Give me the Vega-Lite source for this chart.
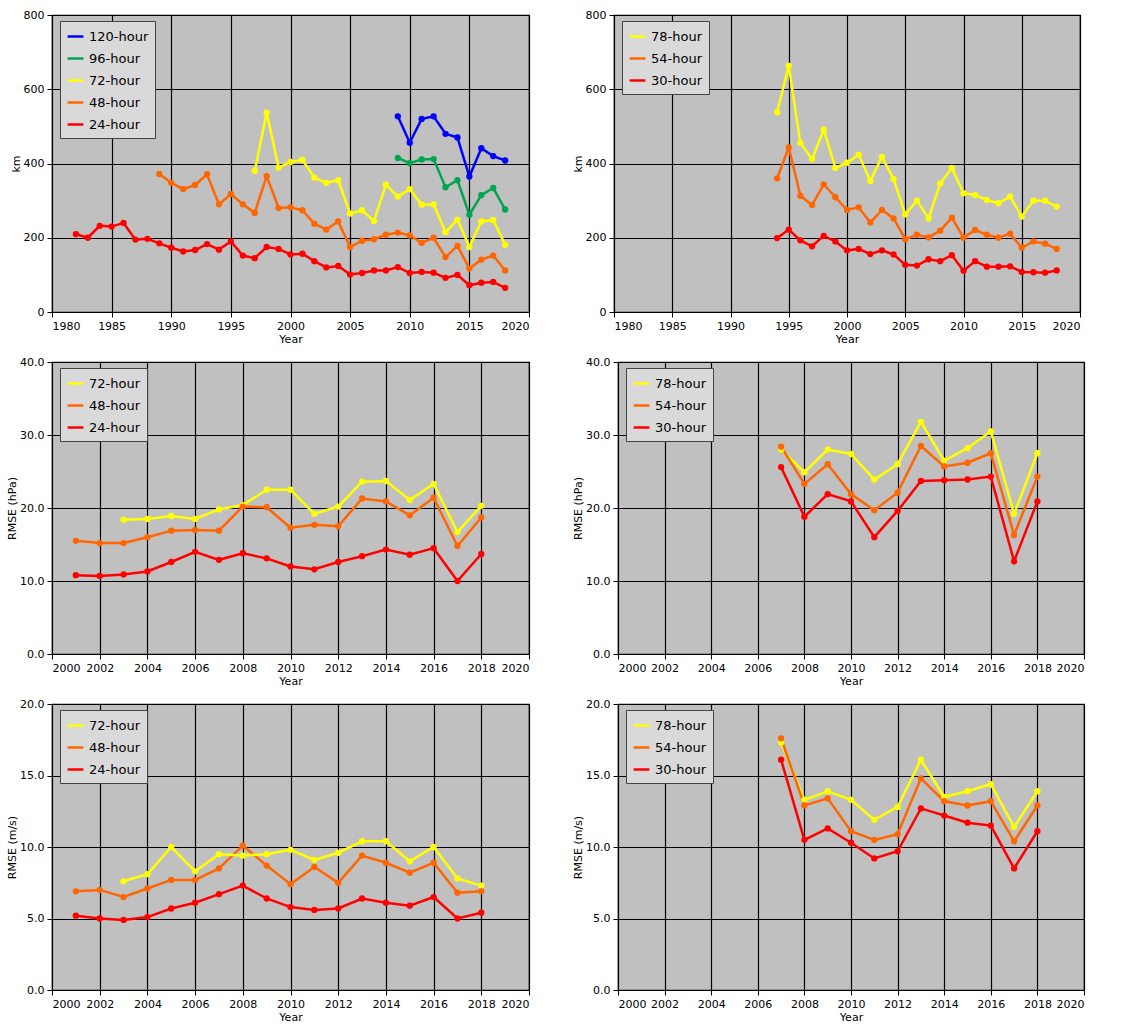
{
  "$schema": "https://vega.github.io/schema/vega-lite/v6.json",
  "padding": {"left": 5, "top": 8, "right": 5, "bottom": 2},
  "spacing": 10,
  "config": {
    "font": "DejaVu Sans",
    "view": {"fill": "#c0c0c0", "stroke": "#000", "strokeWidth": 1.2},
    "axis": {"gridColor": "#000", "gridOpacity": 1, "gridWidth": 1.2, "domainColor": "#000", "tickColor": "#000", "labelFontSize": 11, "labelColor": "#000", "titleFontSize": 11, "titleFontWeight": "normal", "titleColor": "#000", "labelPadding": 3, "titlePadding": 2},
    "legend": {"orient": "none", "legendX": 8, "legendY": 6, "fillColor": "#d9d9d9", "strokeColor": "#444", "padding": 6, "labelFontSize": 13, "labelColor": "#000", "title": null, "symbolType": "stroke", "symbolStrokeWidth": 2.5, "symbolSize": 250, "rowPadding": 5},
    "line": {"strokeWidth": 2.5},
    "point": {"filled": true, "size": 40, "opacity": 1}
  },
  "resolve": {"scale": {"color": "independent"}},
  "vconcat": [
    {"hconcat": [
      {
        "width": 477, "height": 297,
        "data": {"values": [
          {"year":1982,"a":null,"b":null,"c":null,"d":null,"e":210},
          {"year":1983,"a":null,"b":null,"c":null,"d":null,"e":200},
          {"year":1984,"a":null,"b":null,"c":null,"d":null,"e":232},
          {"year":1985,"a":null,"b":null,"c":null,"d":null,"e":230},
          {"year":1986,"a":null,"b":null,"c":null,"d":null,"e":240},
          {"year":1987,"a":null,"b":null,"c":null,"d":null,"e":195},
          {"year":1988,"a":null,"b":null,"c":null,"d":null,"e":197},
          {"year":1989,"a":null,"b":null,"c":null,"d":372,"e":185},
          {"year":1990,"a":null,"b":null,"c":null,"d":348,"e":173},
          {"year":1991,"a":null,"b":null,"c":null,"d":331,"e":163},
          {"year":1992,"a":null,"b":null,"c":null,"d":342,"e":167},
          {"year":1993,"a":null,"b":null,"c":null,"d":371,"e":183},
          {"year":1994,"a":null,"b":null,"c":null,"d":290,"e":168},
          {"year":1995,"a":null,"b":null,"c":null,"d":318,"e":190},
          {"year":1996,"a":null,"b":null,"c":null,"d":290,"e":152},
          {"year":1997,"a":null,"b":null,"c":380,"d":267,"e":145},
          {"year":1998,"a":null,"b":null,"c":537,"d":366,"e":175},
          {"year":1999,"a":null,"b":null,"c":389,"d":280,"e":170},
          {"year":2000,"a":null,"b":null,"c":404,"d":282,"e":155},
          {"year":2001,"a":null,"b":null,"c":410,"d":274,"e":157},
          {"year":2002,"a":null,"b":null,"c":362,"d":238,"e":137},
          {"year":2003,"a":null,"b":null,"c":348,"d":222,"e":120},
          {"year":2004,"a":null,"b":null,"c":355,"d":244,"e":124},
          {"year":2005,"a":null,"b":null,"c":265,"d":175,"e":101},
          {"year":2006,"a":null,"b":null,"c":274,"d":192,"e":105},
          {"year":2007,"a":null,"b":null,"c":245,"d":196,"e":112},
          {"year":2008,"a":null,"b":null,"c":343,"d":208,"e":112},
          {"year":2009,"a":527,"b":415,"c":311,"d":214,"e":121},
          {"year":2010,"a":456,"b":401,"c":331,"d":206,"e":105},
          {"year":2011,"a":520,"b":411,"c":289,"d":186,"e":108},
          {"year":2012,"a":527,"b":412,"c":290,"d":200,"e":106},
          {"year":2013,"a":480,"b":336,"c":215,"d":148,"e":92},
          {"year":2014,"a":470,"b":355,"c":249,"d":178,"e":100},
          {"year":2015,"a":365,"b":262,"c":175,"d":117,"e":72},
          {"year":2016,"a":441,"b":315,"c":244,"d":141,"e":79},
          {"year":2017,"a":420,"b":334,"c":248,"d":152,"e":81},
          {"year":2018,"a":408,"b":276,"c":181,"d":112,"e":65}
        ]},
        "transform": [
          {"fold": ["a","b","c","d","e"], "as": ["k","v"]},
          {"filter": "datum.v != null"},
          {"calculate": "{'a':'120-hour','b':'96-hour','c':'72-hour','d':'48-hour','e':'24-hour'}[datum.k]", "as": "series"}
        ],
        "encoding": {
          "x": {"field": "year", "type": "quantitative", "title": "Year", "scale": {"domain": [1980, 2020], "nice": false}, "axis": {"values": [1980,1985,1990,1995,2000,2005,2010,2015,2020], "format": "d"}},
          "y": {"field": "v", "type": "quantitative", "title": "km", "scale": {"domain": [0, 800], "nice": false}, "axis": {"values": [0,200,400,600,800], "format": "d"}},
          "color": {"field": "series", "type": "nominal", "scale": {"domain": ["120-hour","96-hour","72-hour","48-hour","24-hour"], "range": ["#0000ff","#00a550","#ffff00","#ff6600","#ff0000"]}}
        },
        "layer": [{"mark": "line"}, {"mark": "point"}]
      },
      {
        "width": 466, "height": 297,
        "data": {"values": [
          {"year":1994,"a":538,"b":360,"c":199},
          {"year":1995,"a":663,"b":443,"c":222},
          {"year":1996,"a":455,"b":313,"c":193},
          {"year":1997,"a":412,"b":288,"c":177},
          {"year":1998,"a":491,"b":344,"c":205},
          {"year":1999,"a":388,"b":309,"c":190},
          {"year":2000,"a":402,"b":275,"c":166},
          {"year":2001,"a":424,"b":282,"c":170},
          {"year":2002,"a":353,"b":241,"c":156},
          {"year":2003,"a":418,"b":275,"c":166},
          {"year":2004,"a":358,"b":252,"c":155},
          {"year":2005,"a":263,"b":196,"c":127},
          {"year":2006,"a":300,"b":208,"c":125},
          {"year":2007,"a":252,"b":201,"c":142},
          {"year":2008,"a":346,"b":219,"c":137},
          {"year":2009,"a":388,"b":254,"c":153},
          {"year":2010,"a":320,"b":200,"c":111},
          {"year":2011,"a":315,"b":221,"c":137},
          {"year":2012,"a":302,"b":208,"c":122},
          {"year":2013,"a":293,"b":200,"c":122},
          {"year":2014,"a":311,"b":211,"c":123},
          {"year":2015,"a":257,"b":173,"c":108},
          {"year":2016,"a":300,"b":190,"c":107},
          {"year":2017,"a":300,"b":184,"c":106},
          {"year":2018,"a":284,"b":170,"c":112}
        ]},
        "transform": [
          {"fold": ["a","b","c"], "as": ["k","v"]},
          {"calculate": "{'a':'78-hour','b':'54-hour','c':'30-hour'}[datum.k]", "as": "series"}
        ],
        "encoding": {
          "x": {"field": "year", "type": "quantitative", "title": "Year", "scale": {"domain": [1980, 2020], "nice": false}, "axis": {"values": [1980,1985,1990,1995,2000,2005,2010,2015,2020], "format": "d"}},
          "y": {"field": "v", "type": "quantitative", "title": "km", "scale": {"domain": [0, 800], "nice": false}, "axis": {"values": [0,200,400,600,800], "format": "d"}},
          "color": {"field": "series", "type": "nominal", "scale": {"domain": ["78-hour","54-hour","30-hour"], "range": ["#ffff00","#ff6600","#ff0000"]}}
        },
        "layer": [{"mark": "line"}, {"mark": "point"}]
      }
    ], "spacing": 40, "resolve": {"scale": {"color": "independent"}}},
    {"hconcat": [
      {
        "width": 477, "height": 292,
        "data": {"values": [
          {"year":2001,"a":null,"b":15.5,"c":10.8},
          {"year":2002,"a":null,"b":15.2,"c":10.7},
          {"year":2003,"a":18.4,"b":15.2,"c":10.9},
          {"year":2004,"a":18.5,"b":16.0,"c":11.3},
          {"year":2005,"a":18.9,"b":16.9,"c":12.6},
          {"year":2006,"a":18.5,"b":17.0,"c":14.0},
          {"year":2007,"a":19.8,"b":16.9,"c":12.9},
          {"year":2008,"a":20.4,"b":20.2,"c":13.8},
          {"year":2009,"a":22.5,"b":20.1,"c":13.1},
          {"year":2010,"a":22.5,"b":17.3,"c":12.0},
          {"year":2011,"a":19.2,"b":17.7,"c":11.6},
          {"year":2012,"a":20.2,"b":17.5,"c":12.6},
          {"year":2013,"a":23.6,"b":21.3,"c":13.4},
          {"year":2014,"a":23.7,"b":20.9,"c":14.3},
          {"year":2015,"a":21.1,"b":19.0,"c":13.6},
          {"year":2016,"a":23.3,"b":21.4,"c":14.5},
          {"year":2017,"a":16.7,"b":14.8,"c":10.0},
          {"year":2018,"a":20.3,"b":18.7,"c":13.7}
        ]},
        "transform": [
          {"fold": ["a","b","c"], "as": ["k","v"]},
          {"filter": "datum.v != null"},
          {"calculate": "{'a':'72-hour','b':'48-hour','c':'24-hour'}[datum.k]", "as": "series"}
        ],
        "encoding": {
          "x": {"field": "year", "type": "quantitative", "title": "Year", "scale": {"domain": [2000, 2020], "nice": false}, "axis": {"values": [2000,2002,2004,2006,2008,2010,2012,2014,2016,2018,2020], "format": "d"}},
          "y": {"field": "v", "type": "quantitative", "title": "RMSE (hPa)", "scale": {"domain": [0, 40], "nice": false}, "axis": {"values": [0,10,20,30,40], "format": ".1f"}},
          "color": {"field": "series", "type": "nominal", "scale": {"domain": ["72-hour","48-hour","24-hour"], "range": ["#ffff00","#ff6600","#ff0000"]}}
        },
        "layer": [{"mark": "line"}, {"mark": "point"}]
      },
      {
        "width": 466, "height": 292,
        "data": {"values": [
          {"year":2007,"a":28.0,"b":28.4,"c":25.6},
          {"year":2008,"a":24.9,"b":23.3,"c":18.8},
          {"year":2009,"a":28.0,"b":26.0,"c":21.9},
          {"year":2010,"a":27.4,"b":21.9,"c":20.9},
          {"year":2011,"a":23.9,"b":19.7,"c":16.0},
          {"year":2012,"a":26.0,"b":22.1,"c":19.6},
          {"year":2013,"a":31.8,"b":28.5,"c":23.7},
          {"year":2014,"a":26.5,"b":25.7,"c":23.8},
          {"year":2015,"a":28.2,"b":26.2,"c":23.9},
          {"year":2016,"a":30.5,"b":27.5,"c":24.3},
          {"year":2017,"a":19.2,"b":16.3,"c":12.7},
          {"year":2018,"a":27.5,"b":24.3,"c":20.9}
        ]},
        "transform": [
          {"fold": ["a","b","c"], "as": ["k","v"]},
          {"calculate": "{'a':'78-hour','b':'54-hour','c':'30-hour'}[datum.k]", "as": "series"}
        ],
        "encoding": {
          "x": {"field": "year", "type": "quantitative", "title": "Year", "scale": {"domain": [2000, 2020], "nice": false}, "axis": {"values": [2000,2002,2004,2006,2008,2010,2012,2014,2016,2018,2020], "format": "d"}},
          "y": {"field": "v", "type": "quantitative", "title": "RMSE (hPa)", "scale": {"domain": [0, 40], "nice": false}, "axis": {"values": [0,10,20,30,40], "format": ".1f"}},
          "color": {"field": "series", "type": "nominal", "scale": {"domain": ["78-hour","54-hour","30-hour"], "range": ["#ffff00","#ff6600","#ff0000"]}}
        },
        "layer": [{"mark": "line"}, {"mark": "point"}]
      }
    ], "spacing": 40, "resolve": {"scale": {"color": "independent"}}},
    {"hconcat": [
      {
        "width": 477, "height": 286,
        "data": {"values": [
          {"year":2001,"a":null,"b":6.9,"c":5.2},
          {"year":2002,"a":null,"b":7.0,"c":5.0},
          {"year":2003,"a":7.6,"b":6.5,"c":4.9},
          {"year":2004,"a":8.1,"b":7.1,"c":5.1},
          {"year":2005,"a":10.0,"b":7.7,"c":5.7},
          {"year":2006,"a":8.3,"b":7.7,"c":6.1},
          {"year":2007,"a":9.5,"b":8.5,"c":6.7},
          {"year":2008,"a":9.4,"b":10.1,"c":7.3},
          {"year":2009,"a":9.5,"b":8.7,"c":6.4},
          {"year":2010,"a":9.8,"b":7.4,"c":5.8},
          {"year":2011,"a":9.1,"b":8.6,"c":5.6},
          {"year":2012,"a":9.6,"b":7.5,"c":5.7},
          {"year":2013,"a":10.4,"b":9.4,"c":6.4},
          {"year":2014,"a":10.4,"b":8.9,"c":6.1},
          {"year":2015,"a":9.0,"b":8.2,"c":5.9},
          {"year":2016,"a":10.0,"b":8.9,"c":6.5},
          {"year":2017,"a":7.8,"b":6.8,"c":5.0},
          {"year":2018,"a":7.3,"b":6.9,"c":5.4}
        ]},
        "transform": [
          {"fold": ["a","b","c"], "as": ["k","v"]},
          {"filter": "datum.v != null"},
          {"calculate": "{'a':'72-hour','b':'48-hour','c':'24-hour'}[datum.k]", "as": "series"}
        ],
        "encoding": {
          "x": {"field": "year", "type": "quantitative", "title": "Year", "scale": {"domain": [2000, 2020], "nice": false}, "axis": {"values": [2000,2002,2004,2006,2008,2010,2012,2014,2016,2018,2020], "format": "d"}},
          "y": {"field": "v", "type": "quantitative", "title": "RMSE (m/s)", "scale": {"domain": [0, 20], "nice": false}, "axis": {"values": [0,5,10,15,20], "format": ".1f"}},
          "color": {"field": "series", "type": "nominal", "scale": {"domain": ["72-hour","48-hour","24-hour"], "range": ["#ffff00","#ff6600","#ff0000"]}}
        },
        "layer": [{"mark": "line"}, {"mark": "point"}]
      },
      {
        "width": 466, "height": 286,
        "data": {"values": [
          {"year":2007,"a":17.3,"b":17.6,"c":16.1},
          {"year":2008,"a":13.3,"b":12.9,"c":10.5},
          {"year":2009,"a":13.9,"b":13.4,"c":11.3},
          {"year":2010,"a":13.3,"b":11.1,"c":10.3},
          {"year":2011,"a":11.9,"b":10.5,"c":9.2},
          {"year":2012,"a":12.8,"b":10.9,"c":9.7},
          {"year":2013,"a":16.1,"b":14.8,"c":12.7},
          {"year":2014,"a":13.5,"b":13.2,"c":12.2},
          {"year":2015,"a":13.9,"b":12.9,"c":11.7},
          {"year":2016,"a":14.4,"b":13.2,"c":11.5},
          {"year":2017,"a":11.4,"b":10.4,"c":8.5},
          {"year":2018,"a":13.9,"b":12.9,"c":11.1}
        ]},
        "transform": [
          {"fold": ["a","b","c"], "as": ["k","v"]},
          {"calculate": "{'a':'78-hour','b':'54-hour','c':'30-hour'}[datum.k]", "as": "series"}
        ],
        "encoding": {
          "x": {"field": "year", "type": "quantitative", "title": "Year", "scale": {"domain": [2000, 2020], "nice": false}, "axis": {"values": [2000,2002,2004,2006,2008,2010,2012,2014,2016,2018,2020], "format": "d"}},
          "y": {"field": "v", "type": "quantitative", "title": "RMSE (m/s)", "scale": {"domain": [0, 20], "nice": false}, "axis": {"values": [0,5,10,15,20], "format": ".1f"}},
          "color": {"field": "series", "type": "nominal", "scale": {"domain": ["78-hour","54-hour","30-hour"], "range": ["#ffff00","#ff6600","#ff0000"]}}
        },
        "layer": [{"mark": "line"}, {"mark": "point"}]
      }
    ], "spacing": 40, "resolve": {"scale": {"color": "independent"}}}
  ]
}
